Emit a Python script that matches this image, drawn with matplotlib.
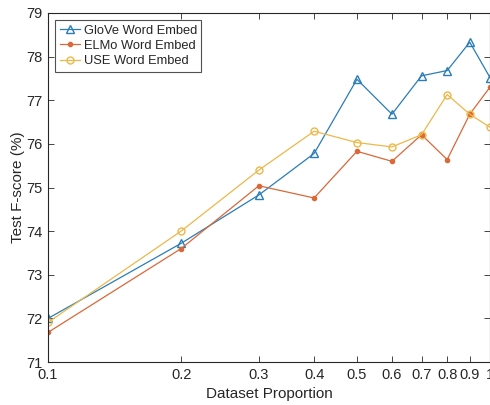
import matplotlib
matplotlib.use("Agg")
import matplotlib.pyplot as plt
from matplotlib.ticker import FixedLocator, FixedFormatter, NullLocator

# data
proportion = [0.1, 0.2, 0.3, 0.4, 0.5, 0.6, 0.7, 0.8, 0.9, 1.0]
glove = [72.00, 73.72, 74.83, 75.78, 77.48, 76.68, 77.56, 77.68, 78.33, 77.52]
elmo = [71.68, 73.60, 75.04, 74.76, 75.83, 75.60, 76.21, 75.64, 76.68, 77.30]
use = [71.91, 74.00, 75.40, 76.29, 76.03, 75.93, 76.21, 77.13, 76.68, 76.38]
xtick_labels = ["0.1", "0.2", "0.3", "0.4", "0.5", "0.6", "0.7", "0.8", "0.9", "1"]

plt.rcParams["font.family"] = ["Liberation Sans", "DejaVu Sans"]
text_color = "#262626"

fig = plt.figure(figsize=(4.9, 4.05), dpi=100)
ax = fig.add_axes([0.098, 0.106, 0.902, 0.862])

ax.plot(proportion, glove, color="#2a7db8", marker="^", markersize=5.5,
        markerfacecolor="none", linewidth=0.9, label="GloVe Word Embed")
ax.plot(proportion, elmo, color="#d9683a", marker=".", markersize=6,
        linewidth=0.9, label="ELMo Word Embed")
ax.plot(proportion, use, color="#edb84a", marker="o", markersize=5,
        markerfacecolor="none", linewidth=0.9, label="USE Word Embed")

ax.set_xscale("log")
ax.set_xlim(0.1, 1.0)
ax.set_ylim(71, 79)
ax.xaxis.set_major_locator(FixedLocator(proportion))
ax.xaxis.set_major_formatter(FixedFormatter(xtick_labels))
ax.xaxis.set_minor_locator(NullLocator())
ax.set_yticks(range(71, 80))

ax.tick_params(direction="in", top=True, right=True, length=4, width=0.6,
               colors=text_color, labelsize=10.5, pad=4)
for side in ax.spines.values():
    side.set_color(text_color)
    side.set_linewidth(0.8)

ax.set_xlabel("Dataset Proportion", fontsize=11, color=text_color, labelpad=4)
ax.set_ylabel("Test F-score (%)", fontsize=11, color=text_color, labelpad=1)

leg = ax.legend(loc="upper left", fontsize=9.3, frameon=True, fancybox=False,
                borderpad=0.35, labelspacing=0.25, handlelength=1.6,
                handletextpad=0.25, borderaxespad=0.55)
leg.get_frame().set_edgecolor(text_color)
leg.get_frame().set_linewidth(0.8)
for t in leg.get_texts():
    t.set_color(text_color)

fig.savefig("out.png", dpi=100)
